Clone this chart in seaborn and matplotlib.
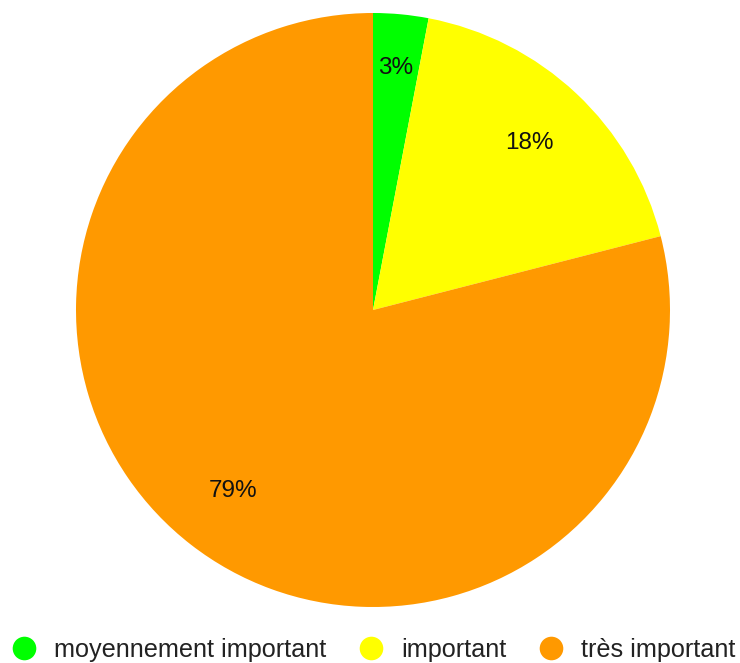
import seaborn as sns
import matplotlib.pyplot as plt
from matplotlib.lines import Line2D

sns.set_theme(style="white")
plt.rcParams["font.family"] = ["Liberation Sans", "DejaVu Sans"]

categories = ["moyennement important", "important", "très important"]
shares = [3, 18, 79]
colors = ["#00ff00", "#ffff00", "#ff9900"]

fig = plt.figure(figsize=(7.4, 6.63), dpi=100)
ax = fig.add_axes([76 / 740, 56 / 663, 594 / 740, 594 / 663])

wedges, texts, autotexts = ax.pie(shares, colors=colors, startangle=90, counterclock=False,
                                  autopct="%1.0f%%", pctdistance=0.77, radius=1.0,
                                  wedgeprops=dict(linewidth=0),
                                  textprops=dict(fontsize=17.5, color="#111111"))
# the small slice label sits further out
x, y = autotexts[0].get_position()
autotexts[0].set_position((x * 0.82 / 0.77, y * 0.82 / 0.77))
ax.set_xlim(-1, 1)
ax.set_ylim(-1, 1)
ax.set_aspect("equal")
ax.axis("off")

handles = [Line2D([], [], marker="o", linestyle="none", markersize=17, color=c, markeredgewidth=0)
           for c in colors]
leg = fig.legend(handles, categories, loc="center", bbox_to_anchor=(0.5045, 13 / 663), ncol=3,
                 frameon=False, fontsize=18.2, handlelength=1.0, handletextpad=0.7,
                 columnspacing=1.25, borderpad=0, borderaxespad=0)
for t in leg.get_texts():
    t.set_color("#222222")

fig.savefig("out.png", dpi=100)
